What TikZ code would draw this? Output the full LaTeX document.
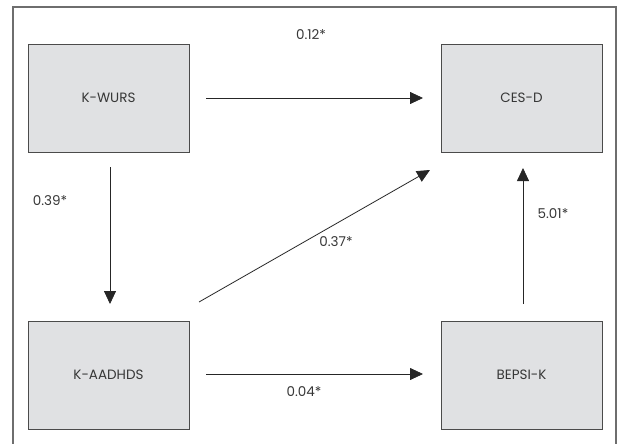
\documentclass[tikz,border=0pt]{standalone}
\usepackage{fontspec}
\setmainfont{Poppins}
\usetikzlibrary{arrows.meta}
\definecolor{boxfill}{RGB}{224,225,227}
\definecolor{boxline}{RGB}{75,75,75}
\definecolor{txt}{RGB}{55,55,55}
\definecolor{frameline}{RGB}{110,110,110}
\tikzset{
  varbox/.style={draw=boxline, fill=boxfill, line width=0.9pt, minimum width=161pt, minimum height=108pt, inner sep=0pt, font=\fontsize{13.5}{16}\selectfont, text=txt},
  path/.style={draw=black!85, line width=0.8pt, -{Triangle[length=13pt,width=12pt]}},
  coef/.style={font=\fontsize{13.5}{16}\selectfont, text=txt, inner sep=0pt}
}
\begin{document}
\begin{tikzpicture}[x=1pt,y=-1pt]
  \useasboundingbox (0,0) rectangle (618,444);
  % open frame round the model
  \draw[frameline, line width=1.2pt] (13,444) -- (13,7) -- (616,7) -- (616,444);

  \node[varbox] (wurs)  at (108.5,98)  {K-WURS};
  \node[varbox] (cesd)  at (521.5,98)  {CES-D};
  \node[varbox] (aadhds) at (108.5,375) {K-AADHDS};
  \node[varbox] (bepsi) at (521.5,375) {BEPSI-K};

  % path coefficients
  \coordinate (a1) at (206,98);   \coordinate (a2) at (423,98);
  \coordinate (b1) at (110,167);  \coordinate (b2) at (110,304);
  \coordinate (c1) at (199,302);  \coordinate (c2) at (430,170);
  \coordinate (d1) at (206,374);  \coordinate (d2) at (423,374);
  \coordinate (e1) at (523,304);  \coordinate (e2) at (523,168);

  \draw[path] (a1) -- (a2);
  \draw[path] (b1) -- (b2);
  \draw[path] (c1) -- (c2);
  \draw[path] (d1) -- (d2);
  \draw[path] (e1) -- (e2);

  \node[coef] (l1) at (311,35)  {0.12*};
  \node[coef] (l2) at (50,201)  {0.39*};
  \node[coef] (l3) at (336,242) {0.37*};
  \node[coef] (l4) at (304,392) {0.04*};
  \node[coef] (l5) at (553,214) {5.01*};
\end{tikzpicture}
\end{document}
